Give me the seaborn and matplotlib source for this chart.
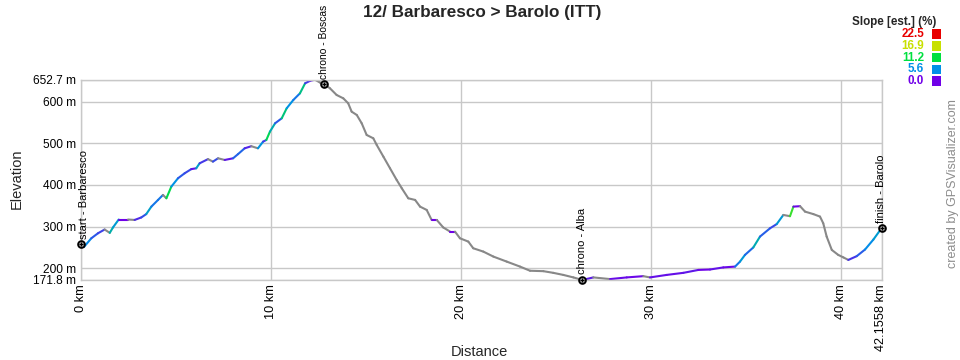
import numpy as np
import pandas as pd
import matplotlib
matplotlib.use("Agg")
import matplotlib.pyplot as plt
from matplotlib.colors import LinearSegmentedColormap, Normalize, to_hex
from matplotlib.patches import Rectangle
import seaborn as sns

# ---------------- data ----------------
dist_km = [0.0, 0.18, 0.57, 0.92, 1.27, 1.54, 1.71, 2.01, 2.50, 2.85, 3.20, 3.46, 3.73, 4.08, 4.34,
           4.52, 4.78, 5.13, 5.48, 5.83, 6.09, 6.27, 6.71, 6.97, 7.24, 7.59, 8.03, 8.29, 8.64, 8.99,
           9.34, 9.61, 9.78, 9.97, 10.24, 10.59, 10.85, 11.20, 11.55, 11.82, 12.08, 12.34, 12.60, 12.83,
           13.13, 13.48, 13.83, 14.09, 14.27, 14.54, 14.80, 15.06, 15.41, 15.59, 15.94, 16.29, 16.64,
           16.91, 17.25, 17.61, 17.87, 18.22, 18.48, 18.75, 19.09, 19.45, 19.71, 19.97, 20.41, 20.67,
           21.20, 21.73, 22.43, 23.13, 23.66, 24.36, 24.88, 25.41, 25.94, 26.41, 26.99, 27.87, 28.75,
           29.62, 29.97, 30.85, 31.73, 32.52, 33.13, 33.83, 34.45, 34.71, 34.97, 35.41, 35.76, 36.29,
           36.64, 36.99, 37.34, 37.52, 37.87, 38.13, 38.57, 38.92, 39.09, 39.27, 39.54, 39.88, 40.15,
           40.41, 40.85, 41.29, 41.73, 42.1558]
elev_m = [258, 251, 272, 284, 293, 285, 298, 317, 317, 316, 322, 330, 348, 364, 376,
          368, 396, 416, 428, 438, 440, 452, 462, 456, 464, 460, 464, 474, 488, 493,
          488, 504, 508, 528, 548, 560, 584, 604, 620, 644, 650, 652.7, 646, 642,
          632, 616, 608, 596, 576, 568, 548, 520, 512, 496, 468, 440, 412,
          392, 368, 364, 348, 340, 316, 316, 298, 288, 288, 272, 264, 248,
          240, 228, 216, 204, 194, 193, 189, 184, 178, 171.8, 178, 174, 178,
          181, 178, 184, 189, 196, 197, 202, 204, 216, 232, 250, 276, 296,
          306, 328, 325, 348, 349, 336, 330, 324, 308, 276, 244, 232, 226,
          220, 229, 245, 269, 296]

waypoint_names = ["start - Barbaresco", "chrono - Boscas", "chrono - Alba", "finish - Barolo"]
waypoint_dist = [0.0, 12.83, 26.41, 42.1558]
waypoint_elev = [258, 642, 171.8, 296]

x_ticks = [0, 10, 20, 30, 40, 42.1558]
x_tick_labels = ["0 km", "10 km", "20 km", "30 km", "40 km", "42.1558 km"]
y_ticks = [171.8, 200, 300, 400, 500, 600, 652.7]
y_tick_labels = ["171.8 m", "200 m", "300 m", "400 m", "500 m", "600 m", "652.7 m"]

slope_levels = [22.5, 16.9, 11.2, 5.6, 0.0]
slope_colors = ["#e80000", "#c8e000", "#00e040", "#0090e8", "#7000e8"]

title = "12/ Barbaresco > Barolo (ITT)"

# ---------------- style ----------------
sns.set_style("white")
plt.rcParams["font.family"] = ["Liberation Sans", "DejaVu Sans"]

W, H = 960, 360
fig = plt.figure(figsize=(W / 100, H / 100), dpi=100)
ax = fig.add_axes([80.5 / W, 80 / H, 801 / W, 200.3 / H])

# slope colormap
cmap = LinearSegmentedColormap.from_list(
    "slope", list(zip([v / 22.5 for v in slope_levels[::-1]], slope_colors[::-1])))
norm = Normalize(0, 22.5)

rows = []
palette = {}
for i in range(len(dist_km) - 1):
    d0, d1 = dist_km[i], dist_km[i + 1]
    e0, e1 = elev_m[i], elev_m[i + 1]
    slope = (e1 - e0) / ((d1 - d0) * 1000) * 100
    palette[i] = "#888888" if slope < 0 else to_hex(cmap(norm(min(slope, 22.5))))
    rows.append((d0, e0, i))
    rows.append((d1, e1, i))
df = pd.DataFrame(rows, columns=["dist", "elev", "seg"])

sns.lineplot(data=df, x="dist", y="elev", hue="seg", palette=palette, estimator=None,
             sort=False, legend=False, linewidth=1.5, ax=ax)

wp = pd.DataFrame({"dist": waypoint_dist, "elev": waypoint_elev, "name": waypoint_names})
sns.scatterplot(data=wp, x="dist", y="elev", marker="o", s=24, facecolor="#9a9a9a",
                edgecolor="black", linewidth=1.3, ax=ax, zorder=5, clip_on=False)
sns.scatterplot(data=wp, x="dist", y="elev", marker="+", s=12, color="black",
                linewidth=0.8, ax=ax, zorder=6, clip_on=False)

for n, d, e in zip(waypoint_names, waypoint_dist, waypoint_elev):
    dx = 2.5 if d == 0 else 0
    fs = 7.4 if e > 600 else 8
    ax.annotate(n, xy=(d, e), xytext=(dx, 4), textcoords="offset points", rotation=90,
                ha="center", va="bottom", fontsize=fs, color="black", annotation_clip=False)

ax.set_xlim(0, 42.1558)
ax.set_ylim(171.8, 652.7)
ax.set_xticks(x_ticks)
ax.set_xticklabels(x_tick_labels, rotation=90, fontsize=9.2)
ax.set_yticks(y_ticks)
ax.set_yticklabels(y_tick_labels, fontsize=8.6)
ax.tick_params(axis="both", length=0, pad=3, colors="black")
ax.grid(True, color="#c8c8c8", linewidth=1)
ax.set_axisbelow(True)
for s in ax.spines.values():
    s.set_color("#c8c8c8")
    s.set_linewidth(1)
ax.set_xlabel("")
ax.set_ylabel("")

fig.text(479 / W, 1 - 352 / H, "Distance", ha="center", va="center", fontsize=10.5)
fig.text(17 / W, 1 - 179 / H, "Elevation", ha="center", va="center", rotation=90, fontsize=10.5)
fig.text(482 / W, 1 - 12 / H, title, ha="center", va="center", fontsize=12.3, fontweight="bold")

# slope legend
fig.text(936 / W, 1 - 21.5 / H, "Slope [est.] (%)", ha="right", va="center",
         fontsize=8.4, fontweight="bold")
legend_y = [34, 46, 57.7, 69.3, 81]
for v, c, y in zip(slope_levels, slope_colors, legend_y):
    fig.text(924 / W, 1 - y / H, f"{v:.1f}", ha="right", va="center", fontsize=8.4,
             fontweight="bold", color=c)
    fig.patches.append(Rectangle((931.5 / W, 1 - (y + 4.7) / H), 9.5 / W, 9.5 / H,
                                 transform=fig.transFigure, facecolor=c, edgecolor="none"))

fig.text(953 / W, 1 - 184 / H, "created by GPSVisualizer.com", rotation=90, ha="center",
         va="center", fontsize=9, color="#8c8c8c")

fig.savefig("out.png", dpi=100)
